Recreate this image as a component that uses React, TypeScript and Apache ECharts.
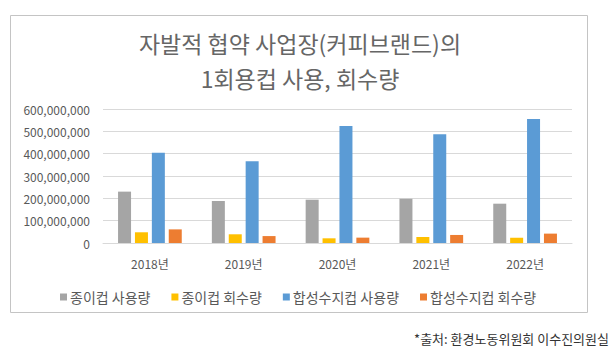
import React, { useEffect, useRef } from "react";
import * as echarts from "echarts";

const categories = ["2018년", "2019년", "2020년", "2021년", "2022년"];
const paperUse = [230000000, 188000000, 194000000, 198000000, 176000000];
const paperCollect = [48000000, 39000000, 21000000, 27000000, 24000000];
const plasticUse = [404000000, 366000000, 524000000, 487000000, 555000000];
const plasticCollect = [61000000, 31000000, 24000000, 36000000, 42000000];
const seriesNames = ["종이컵 사용량", "종이컵 회수량", "합성수지컵 사용량", "합성수지컵 회수량"];
const colors = ["#A5A5A5", "#FFC000", "#5B9BD5", "#ED7D31"];
const titleLines = ["자발적 협약 사업장(커피브랜드)의", "1회용컵 사용, 회수량"];
const sourceText = "*출처: 환경노동위원회 이수진의원실";

const FONT = "'Noto Sans CJK KR', 'Noto Sans', sans-serif";

export default function App() {
  const ref = useRef<HTMLDivElement>(null);
  useEffect(() => {
    if (!ref.current) return;
    const chart = echarts.init(ref.current, null, { renderer: "svg" });
    const data = [paperUse, paperCollect, plasticUse, plasticCollect];
    chart.setOption({
      animation: false,
      textStyle: { fontFamily: FONT },
      graphic: [
        {
          type: "rect",
          shape: { x: 10.5, y: 15.5, width: 577, height: 297 },
          style: { fill: "none", stroke: "#C4C4C4", lineWidth: 1 },
          silent: true,
        },
        {
          type: "text",
          x: 300,
          y: 43,
          style: {
            text: titleLines[0],
            fontSize: 23,
            fontFamily: FONT,
            fill: "#666666",
            textAlign: "center",
            textVerticalAlign: "middle",
          },
        },
        {
          type: "text",
          x: 300,
          y: 78,
          style: {
            text: titleLines[1],
            fontSize: 23,
            fontFamily: FONT,
            fill: "#666666",
            textAlign: "center",
            textVerticalAlign: "middle",
          },
        },
        {
          type: "text",
          x: 609,
          y: 338,
          style: {
            text: sourceText,
            fontSize: 13,
            fontFamily: FONT,
            fill: "#333333",
            textAlign: "right",
            textVerticalAlign: "middle",
          },
        },
      ],
      legend: {
        top: 285,
        left: 55,
        icon: "rect",
        itemWidth: 7,
        itemHeight: 7,
        itemGap: 21,
        textStyle: { fontSize: 14, color: "#595959", fontFamily: FONT, padding: [0, 0, 0, -2] },
        data: seriesNames,
      },
      grid: { left: 103, right: 43, top: 109, bottom: 109 },
      xAxis: {
        type: "category",
        data: categories,
        axisLine: { lineStyle: { color: "#D9D9D9" } },
        axisTick: { show: false },
        axisLabel: { fontSize: 12, color: "#595959", margin: 14, fontFamily: FONT },
      },
      yAxis: {
        type: "value",
        min: 0,
        max: 600000000,
        interval: 100000000,
        axisLine: { show: false },
        axisTick: { show: false },
        splitLine: { lineStyle: { color: "#D9D9D9" } },
        axisLabel: {
          fontSize: 12,
          color: "#595959",
          margin: 13,
          fontFamily: FONT,
          formatter: (v: number) => v.toLocaleString("en-US"),
        },
      },
      series: seriesNames.map((name, i) => ({
        name,
        type: "bar",
        data: data[i],
        barWidth: 13,
        barGap: "30%",
        itemStyle: { color: colors[i] },
      })),
    });
    return () => chart.dispose();
  }, []);
  return (
    <div
      ref={ref}
      style={{ position: "fixed", left: 0, top: 0, width: 615, height: 352, background: "#fff" }}
    />
  );
}
